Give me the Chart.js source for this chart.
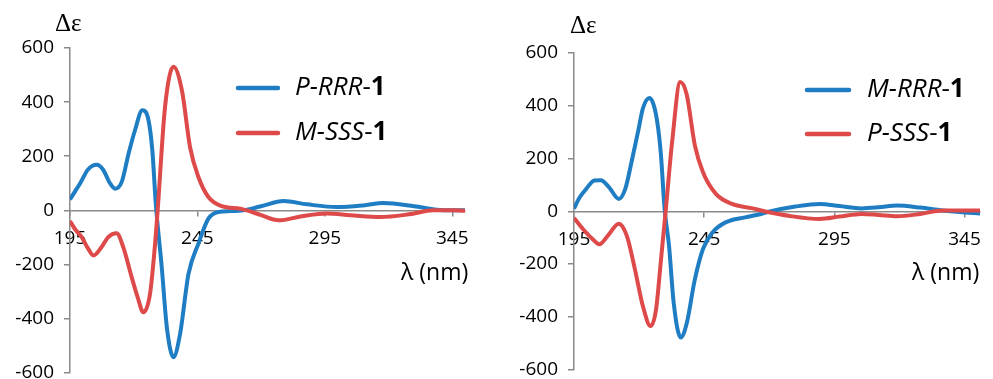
<!DOCTYPE html>
<html>
<head>
<meta charset="utf-8">
<script src="https://cdn.jsdelivr.net/npm/chart.js"></script>
<style>
  html, body { margin: 0; background: #fff; overflow: hidden; width: 993px; height: 379px; }
  .painel { position: absolute; top: 0; }
  #esq { left: 0; width: 496px; height: 394px; }
  #dir { left: 496px; width: 497px; height: 391px; }
</style>
</head>
<body>
<div class="painel" id="esq"><canvas id="graficoEsq"></canvas></div>
<div class="painel" id="dir"><canvas id="graficoDir"></canvas></div>
<script>
// === DADOS =================================================================
const xTicks = [195, 245, 295, 345];
const yTicks = [-600, -400, -200, 0, 200, 400, 600];

// painel esquerdo: P-RRR-1 (azul) / M-SSS-1 (vermelho)
const esqAzulX = [195, 197, 199, 202, 205.5, 208, 210.7, 212.7, 215.3, 218, 220.5, 223.4, 225.8, 227.3, 228.7, 231, 233, 235.6, 238.2, 241.5, 245.4, 249.3, 253.2, 258, 263, 270, 278.8, 288, 299.7, 310, 318, 330, 339, 345, 350];
const esqAzulY = [40, 70, 100, 150, 168, 150, 100, 80, 105, 210, 296, 370, 333, 222, 20, -210, -432, -543, -457, -235, -123, -31, -6, -3, 0, 15, 34, 22, 12, 18, 27, 15, 2, 0, 0];
const esqVermX = [195, 197, 199.6, 202, 204.2, 207.4, 210, 213.3, 215.9, 219.2, 221.5, 223.8, 226.4, 228.4, 229.4, 232.3, 235.6, 238.9, 242.1, 245.4, 249.3, 254.6, 261.8, 264.4, 270, 276.8, 286, 295.8, 305, 316.8, 328, 337.7, 345, 350];
const esqVermY = [-40, -70, -99, -140, -167, -136, -99, -85, -136, -247, -320, -377, -309, -123, 0, 383, 531, 444, 234, 123, 49, 15, 6, 0, -18, -37, -22, -12, -18, -25, -15, 0, 0, -2];

// painel direito: M-RRR-1 (azul) / P-SSS-1 (vermelho)
const dirAzulX = [195, 197.2, 199.7, 202.8, 205.3, 208.4, 212.2, 214.7, 217.1, 219.6, 221.5, 224, 226.5, 228.3, 229.8, 231.5, 233.3, 236, 238.3, 241.4, 244.5, 248.2, 253.2, 260.7, 266.9, 270.6, 280, 289.3, 297, 305.4, 312, 319.1, 328, 336.5, 343, 351];
const dirAzulY = [10, 53, 85, 117, 118, 92, 47, 85, 187, 302, 391, 429, 366, 225, 9, -131, -348, -478, -424, -259, -144, -80, -42, -23, -10, 0, 18, 28, 20, 11, 15, 22, 14, 3, -3, -8];
const dirVermX = [195, 198.5, 202.2, 204.7, 208.4, 212.2, 215.3, 218.4, 221.5, 224.4, 226.5, 228.3, 230.2, 232.7, 235.8, 238.3, 241.4, 244.5, 249.5, 255.7, 263.2, 268.1, 278, 289.3, 297, 305.4, 312, 319.1, 328, 336.5, 343, 351];
const dirVermY = [-25, -68, -106, -125, -87, -47, -93, -220, -361, -435, -373, -195, 0, 264, 490, 442, 251, 149, 66, 28, 12, 0, -18, -29, -20, -10, -14, -19, -10, 3, 3, 3];

const AZUL = '#1f7dc3';
const VERM = '#de4a4a';
const CINZA = '#8a8a8a';

// === HELPERS ===============================================================
function serie(label, xs, ys, cor, ordem) {
  return {
    label,
    data: xs.map((x, i) => ({ x, y: ys[i] })),
    borderColor: cor,
    borderWidth: 4,
    pointRadius: 0,
    fill: false,
    cubicInterpolationMode: 'monotone',
    order: ordem
  };
}

// textos extras: Δε, λ (nm) e a legenda com itálico/negrito
const textosPlugin = {
  id: 'textos',
  afterDraw(chart, args, o) {
    const ctx = chart.ctx;
    ctx.save();
    ctx.fillStyle = '#000';
    ctx.textBaseline = 'middle';
    ctx.textAlign = 'left';
    ctx.font = '25px "Liberation Serif"';
    ctx.fillText('Δε', o.delta.x, o.delta.y);
    ctx.font = '23px "Open Sans"';
    ctx.fillText('λ (nm)', o.lambda.x, o.lambda.y);

    chart.data.datasets.forEach((ds, i) => {
      const y = o.leg.y[i];
      ctx.strokeStyle = ds.borderColor;
      ctx.lineWidth = 4.5;
      ctx.lineCap = 'round';
      ctx.beginPath();
      ctx.moveTo(o.leg.x0, y);
      ctx.lineTo(o.leg.x1, y);
      ctx.stroke();
      const k = ds.label.lastIndexOf('-');
      const partes = [
        [ds.label.slice(0, k), 'italic 26px "Open Sans"'],
        ['-', '26px "Open Sans"'],
        [ds.label.slice(k + 1), 'bold 26px "Open Sans"']
      ];
      let x = o.leg.xt;
      partes.forEach(([t, f]) => {
        ctx.font = f;
        ctx.fillText(t, x, y);
        x += ctx.measureText(t).width;
      });
    });
    ctx.restore();
  }
};

function criaGrafico(id, datasets, pad, textos, xMax) {
  return new Chart(document.getElementById(id), {
    type: 'line',
    data: { datasets },
    options: {
      responsive: true,
      maintainAspectRatio: false,
      animation: false,
      layout: { padding: pad },
      plugins: {
        legend: { display: false },
        tooltip: { enabled: false },
        textos
      },
      scales: {
        x: {
          type: 'linear',
          min: 195,
          max: xMax,
          position: { y: 0 },
          afterBuildTicks: s => { s.ticks = xTicks.map(v => ({ value: v })); },
          grid: { drawOnChartArea: false, tickLength: 5, color: CINZA, lineWidth: 1.5 },
          border: { color: CINZA, width: 1.5 },
          ticks: { autoSkip: false, maxRotation: 0, padding: 12, color: '#000', font: { family: 'Open Sans', size: 19 } }
        },
        y: {
          min: -600,
          max: 600,
          afterBuildTicks: s => { s.ticks = yTicks.map(v => ({ value: v })); },
          afterFit: s => { s.width = 60; },
          grid: { drawOnChartArea: false, tickLength: 6, color: CINZA, lineWidth: 1.5 },
          border: { color: CINZA, width: 1.5 },
          ticks: { padding: 10, color: '#000', font: { family: 'Open Sans', size: 19 } }
        }
      }
    },
    plugins: [textosPlugin]
  });
}

// === GRAFICOS ==============================================================
criaGrafico('graficoEsq', [
  serie('P-RRR-1', esqAzulX, esqAzulY, AZUL, 1),
  serie('M-SSS-1', esqVermX, esqVermY, VERM, 0)
], { left: 10, right: 31, top: 48, bottom: 7 }, {
  delta: { x: 55, y: 24 },
  lambda: { x: 401, y: 273 },
  leg: { x0: 238, x1: 278, xt: 295, y: [88, 133] }
}, 350);

criaGrafico('graficoDir', [
  serie('M-RRR-1', dirAzulX, dirAzulY, AZUL, 1),
  serie('P-SSS-1', dirVermX, dirVermY, VERM, 0)
], { left: 18, right: 4, top: 53, bottom: 12 }, {
  delta: { x: 74, y: 26 },
  lambda: { x: 416, y: 273 },
  leg: { x0: 311, x1: 353, xt: 371, y: [90, 134] }
}, 351);
</script>
</body>
</html>
